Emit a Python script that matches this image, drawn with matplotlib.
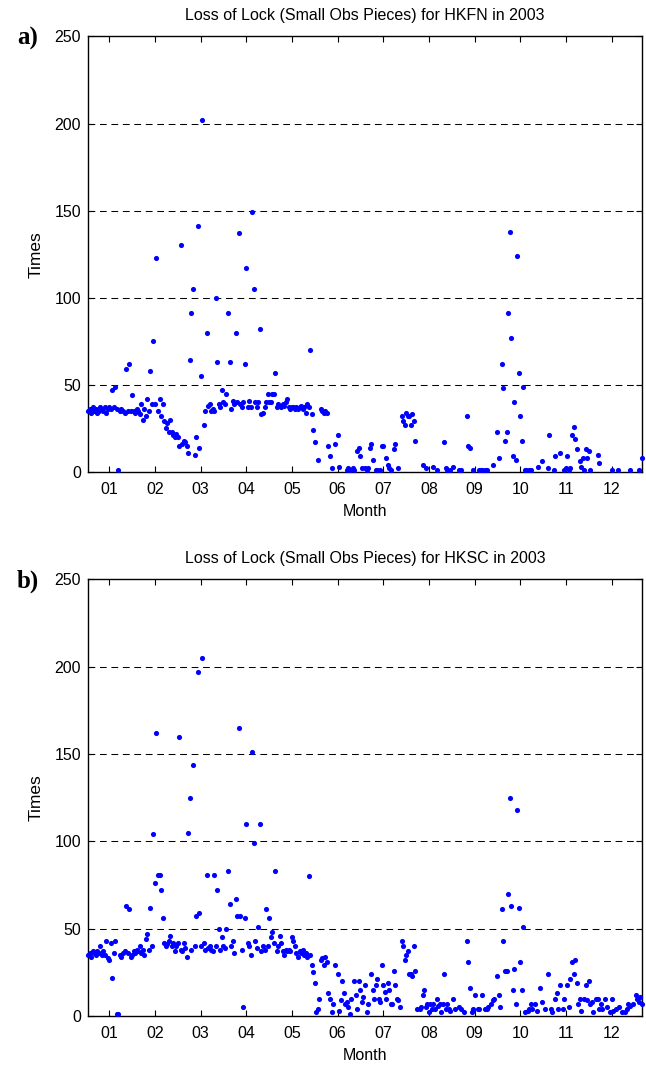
import numpy as np
import matplotlib
matplotlib.use('Agg')
import matplotlib.pyplot as plt

nan = np.nan

# daily loss-of-lock counts, 2003 (one row per month)
hkfn_times = [
    35, 36, 34, 37, 35, 36, 34, 35, 37, 36, 35, 37, 34, 36, 37, 36, 47, 37, 49, 36, 1, 35, 36, 35, 34, 59, 35, 62, 35, 44, 35,
    34, 36, 35, 33, 39, 30, 36, 32, 42, 35, 58, 39, 75, 39, 123, 35, 42, 32, 39, 29, 25, 28, 23, 30, 23, 21, 20, 22,
    20, 15, 130, 16, 18, 17, 15, 11, 64, 91, 105, 10, 20, 141, 14, 55, 202, 27, 35, 80, 38, 39, 35, 36, 35, 100, 63, 39, 37, 47, 40,
    39, 45, 91, 63, 36, 41, 39, 80, 40, 137, 39, 37, 40, 62, 117, 37, 41, 37, 149, 105, 40, 37, 40, 82, 33, 34, 37, 40, 45, 40,
    40, 45, 45, 57, 37, 39, 38, 37, 39, 38, 40, 42, 37, 36, 37, 37, 36, 37, 36, 37, 38, 36, 37, 34, 39, 37, 70, 33, 24, 17, nan,
    7, nan, 36, 35, 34, 35, 34, 15, 9, 2, nan, 16, nan, 21, 3, nan, nan, nan, nan, 1, 2, 1, nan, 2, 1, nan, 12, 14, 9, 2,
    nan, 2, 1, 2, 14, 16, 7, nan, 1, 1, nan, 1, 15, 15, nan, 8, 4, 2, 1, nan, 13, 16, nan, 2, nan, 32, 29, 27, 34, 32, 32,
    27, 33, 29, 18, nan, nan, nan, nan, 4, nan, 2, nan, nan, nan, nan, 3, nan, 1, nan, nan, nan, nan, 17, 2, 1, nan, 1, nan, 3, nan, nan,
    nan, 1, 1, nan, nan, nan, 32, 15, 14, nan, 1, nan, nan, nan, 1, 1, 1, nan, 1, 1, nan, nan, nan, 4, nan, nan, 23, 8, nan, 62,
    48, 18, 23, 91, 138, 77, 9, 40, 7, 124, 57, 32, 18, 49, 1, 1, nan, 1, 1, nan, nan, nan, nan, 3, nan, 6, nan, nan, nan, 2, 21,
    nan, nan, 1, 9, nan, nan, 11, nan, nan, 1, 2, 9, 1, 2, 21, 26, 19, 13, nan, 6, 3, 8, 1, 13, 8, 12, 1, nan, nan, nan,
    nan, 10, 5, nan, nan, nan, nan, nan, nan, nan, 1, nan, nan, nan, 1, nan, nan, nan, nan, nan, nan, nan, 1, nan, nan, nan, nan, nan, 1, nan, 8,
]

hksc_times = [
    35, 36, 34, 37, 36, 35, 37, 36, 40, 35, 37, 35, 43, 33, 32, 42, 22, 36, 43, 1, 1, 35, 34, 36, 37, 63, 36, 61, 34, 35, 37,
    36, 38, 37, 40, 36, 38, 35, 44, 47, 38, 62, 40, 104, 76, 162, 81, 81, 72, 56, 42, 40, 41, 43, 46, 40, 42, 37, 40,
    42, 160, 38, 37, 42, 39, 34, 105, 125, 38, 144, 40, 57, 197, 59, 40, 205, 42, 38, 81, 39, 40, 38, 37, 81, 40, 72, 50, 38, 45, 40,
    39, 50, 83, 64, 40, 43, 36, 67, 57, 165, 57, 38, 5, 56, 110, 42, 40, 35, 151, 99, 43, 39, 51, 110, 37, 40, 38, 61, 40, 56,
    45, 48, 42, 83, 37, 40, 46, 42, 37, 35, 38, 37, 38, 37, 45, 43, 40, 36, 34, 37, 36, 38, 35, 36, 34, 80, 35, 29, 25, 19, 2,
    4, 10, 32, 33, 29, 34, 31, 13, 10, 2, 7, 29, nan, 24, 3, 9, 20, 13, 7, 8, 5, 1, 10, nan, 20, 12, 4, 20, 15, 8,
    11, 18, 2, 7, nan, 24, 15, 10, 18, 21, 10, 8, 29, 18, 14, 10, 19, 15, 7, 7, 26, 18, 10, 9, 5, 43, 40, 32, 35, 37, 24,
    24, 23, 40, 26, 4, nan, 4, 5, 12, 15, 5, 7, 2, 7, 4, 7, 4, 10, 6, 7, 2, 7, 24, 4, 7, 4, 3, nan, 10, 4, nan,
    nan, 5, 4, nan, 2, nan, 43, 31, 16, 2, 4, 12, nan, 4, 4, nan, 12, nan, 4, 4, 5, nan, 7, 9, 10, nan, 23, 12, 5, 61,
    43, 26, 26, 70, 125, 63, 15, 27, 7, 118, 62, 31, 15, 51, 2, nan, 3, 4, 7, 4, nan, 7, 3, nan, 16, 8, nan, 4, nan, 24, nan,
    4, 2, nan, 10, 13, 4, 18, nan, 4, 10, nan, 18, 5, 21, 31, 24, 32, 19, 7, 10, 3, nan, 10, 18, 9, 20, 7, 8, 2, nan,
    10, 10, 4, 7, 4, nan, 10, 5, nan, 2, 10, 3, nan, 4, nan, 5, nan, 2, nan, 2, 4, 7, 6, nan, 7, nan, 12, 10, 8, 11, 7,
]

month_ticks = list(range(15, 346, 30))
month_labels = ['01', '02', '03', '04', '05', '06', '07', '08', '09', '10', '11', '12']
stations = ['HKFN', 'HKSC']
panel_tags = ['a)', 'b)']

plt.rcParams['font.family'] = ['Liberation Sans', 'DejaVu Sans']

fig = plt.figure(figsize=(6.46, 10.68), dpi=100)
ax_a = fig.add_axes([0.1362, 0.5581, 0.8576, 0.4078])
ax_b = fig.add_axes([0.1362, 0.0487, 0.8576, 0.4087])

for ax, vals, name, tag in zip([ax_a, ax_b], [hkfn_times, hksc_times], stations, panel_tags):
    vals = np.array(vals, dtype=float)
    days = np.arange(1, len(vals) + 1)

    ax.plot(days, vals, 'o', ms=3.7, color='#0000ff', mec='none', clip_on=False, zorder=3)

    ax.set_xlim(1, 365)
    ax.set_ylim(0, 250)
    ax.set_xticks(month_ticks)
    ax.set_xticklabels(month_labels)
    ax.set_yticks(range(0, 251, 50))

    # dashed horizontal grid only at inner levels
    for yv in [50, 100, 150, 200]:
        ax.axhline(yv, color='black', lw=0.75, ls=(0, (6.5, 4.5)), zorder=1)

    ax.tick_params(direction='in', top=True, right=True, length=4, width=0.8,
                   labelsize=11.5, pad=5)
    ax.tick_params(axis='x', pad=7)
    for s in ax.spines.values():
        s.set_linewidth(1.0)

    ax.set_title('Loss of Lock (Small Obs Pieces) for %s in 2003' % name, fontsize=11.5, pad=12)
    ax.set_xlabel('Month', fontsize=11.5, labelpad=5)
    ax.set_ylabel('Times', fontsize=12.5, labelpad=8)

    pos = ax.get_position()
    fig.text(0.026, pos.y1 - 0.002, tag, fontsize=18, fontweight='bold',
             family='Liberation Serif', va='center', ha='left')

fig.savefig('out.png', dpi=100)
